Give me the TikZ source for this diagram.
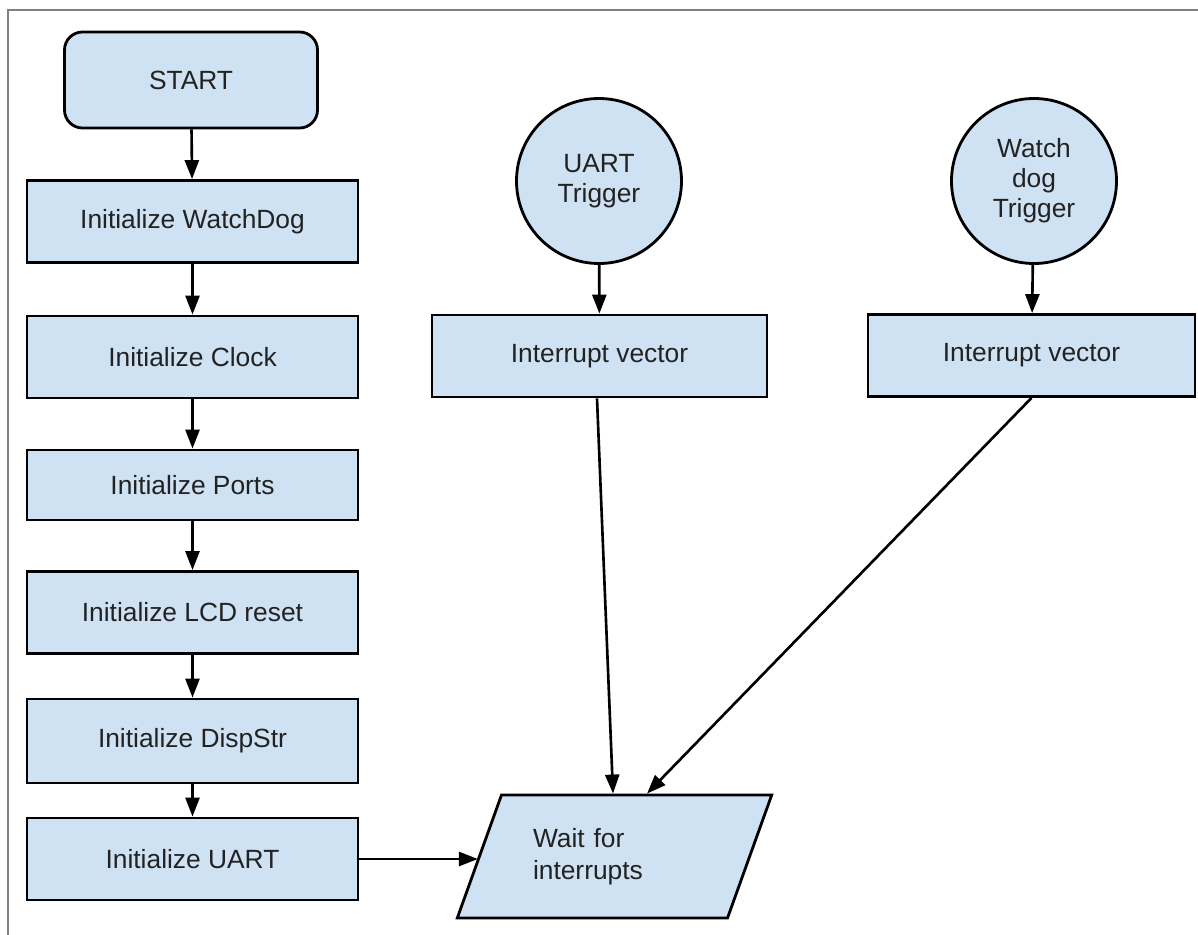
\documentclass[tikz,border=0pt]{standalone}
\usepackage{fontspec}
\setmainfont{Liberation Sans}
\usepackage{tikz}
\usetikzlibrary{arrows.meta,shapes.geometric}

\definecolor{boxblue}{RGB}{207,226,243}
\definecolor{inkgray}{RGB}{34,34,34}

\begin{document}
\begin{tikzpicture}[x=0.2mm, y=-0.2mm,
    every node/.style={font=\fontsize{15}{17}\selectfont, text=inkgray},
    stepbox/.style={draw=black, line width=1.6pt, fill=boxblue, rectangle,
      minimum width=6.62cm, minimum height=1.64cm, inner sep=2pt},
    startbox/.style={stepbox, rounded corners=3.6mm, minimum width=5.06cm, minimum height=1.92cm},
    trigger/.style={draw=black, line width=1.6pt, fill=boxblue, circle,
      minimum size=3.3cm, inner sep=0pt, align=center},
    waitbox/.style={draw=black, line width=1.6pt, fill=boxblue, trapezium,
      trapezium left angle=63.6, trapezium right angle=116.4, trapezium stretches=true,
      minimum width=6.3cm, minimum height=2.46cm, text width=3.26cm, align=left,
      font=\fontsize{15}{18.5}\selectfont},
    arr/.style={draw=black, line width=1.5pt, -{Triangle[length=3.8mm, width=2.8mm]}},
    frame/.style={draw=gray, line width=1pt}
  ]
    \useasboundingbox (0,0) rectangle (1198,935);

    % Rahmen
    \draw[frame] (8,935) -- (8,10) -- (1198,10);

    % Initialisierung
    \node[startbox] (start) at (191,80) {START};
    \node[stepbox] (wdog)  at (192.5,221.5) {Initialize WatchDog};
    \node[stepbox] (clock) at (192.5,357) {Initialize Clock};
    \node[stepbox, minimum height=1.4cm] (ports) at (192.5,485) {Initialize Ports};
    \node[stepbox] (lcd)   at (192.5,612.5) {Initialize LCD reset};
    \node[stepbox, minimum height=1.68cm] (disp) at (192.5,741) {Initialize DispStr};
    \node[stepbox] (uart)  at (192.5,859) {Initialize UART};

    % Interrupts
    \node[trigger] (utrig) at (599,181) {UART\\Trigger};
    \node[trigger] (wtrig) at (1034,181) {Watch\\dog\\Trigger};
    \node[stepbox, minimum width=6.7cm] (ivu) at (599.5,356) {Interrupt vector};
    \node[stepbox, minimum width=6.54cm] (ivw) at (1031.5,355.5) {Interrupt vector};

    % Warten
    \node[waitbox] (wait) at (614.5,856.5) {Wait for\\interrupts};

    % Pfeile
    \draw[arr] (start) -- (wdog);
    \draw[arr] (wdog) -- (clock);
    \draw[arr] (clock) -- (ports);
    \draw[arr] (ports) -- (lcd);
    \draw[arr] (lcd) -- (disp);
    \draw[arr] (disp) -- (uart);
    \draw[arr] (uart.east) -- (uart.east -| wait.west);
    \draw[arr] (utrig) -- (ivu);
    \draw[arr] (wtrig) -- (ivw);
    \draw[arr] ([xshift=-0.05cm]ivu.south) -- ([xshift=-0.03cm]wait.north);
    \draw[arr] (ivw.south) -- ([xshift=0.65cm]wait.north);
  \end{tikzpicture}
\end{document}
